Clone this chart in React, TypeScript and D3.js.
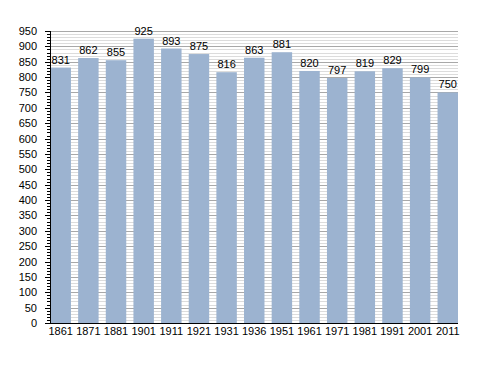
import React from "react";
import * as d3 from "d3";

const years = ["1861","1871","1881","1901","1911","1921","1931","1936","1951","1961","1971","1981","1991","2001","2011"];
const population = [831,862,855,925,893,875,816,863,881,820,797,819,829,799,750];
const majorTicks = d3.range(0, 951, 50);
const minorTicks = d3.range(0, 951, 10);

export default function App() {
  const W = 488, H = 373;
  const left = 50.5, right = 458, top = 31, bottom = 323;
  const x = d3.scaleBand<string>().domain(years).range([left, right]).paddingInner(0.26).paddingOuter(0);
  const y = d3.scaleLinear().domain([0, 950]).range([bottom, top]);
  const font = "'Liberation Sans', Arial, sans-serif";
  return (
    <svg width={W} height={H} style={{ position: "absolute", left: 0, top: 0 }} fontFamily={font}>
      <rect width={W} height={H} fill="#fff" />
      {minorTicks.filter(t => t % 50 !== 0).map(t => (
        <line key={"mg" + t} x1={left} x2={right} y1={Math.round(y(t)) + 0.5} y2={Math.round(y(t)) + 0.5} stroke="#dcdcdc" strokeWidth={1} />
      ))}
      {majorTicks.map(t => (
        <line key={"Mg" + t} x1={left} x2={right} y1={Math.round(y(t)) + 0.5} y2={Math.round(y(t)) + 0.5} stroke="#a8a8a8" strokeWidth={1} />
      ))}
      {years.map((yr, i) => (
        <rect key={yr} x={x(yr)} y={y(population[i])} width={x.bandwidth()} height={bottom - y(population[i])} fill="#9cb3d0" />
      ))}
      {years.map((yr, i) => (
        <text key={"l" + yr} x={(x(yr) as number) + x.bandwidth() / 2} y={y(population[i]) - 4} textAnchor="middle" fontSize={11} fill="#000">{population[i]}</text>
      ))}
      <line x1={50.5} x2={50.5} y1={top} y2={bottom} stroke="#000" />
      {minorTicks.map(t => (
        <line key={"t" + t} x1={t % 50 === 0 ? 45 : 47} x2={50.5} y1={Math.round(y(t)) + 0.5} y2={Math.round(y(t)) + 0.5} stroke="#000" />
      ))}
      <line x1={45} x2={right} y1={bottom + 0.5} y2={bottom + 0.5} stroke="#000" />
      {majorTicks.map(t => (
        <text key={"yl" + t} x={37} y={y(t) + 4} textAnchor="end" fontSize={11} fill="#000">{t}</text>
      ))}
      {years.map(yr => (
        <text key={"xl" + yr} x={(x(yr) as number) + x.bandwidth() / 2} y={335} textAnchor="middle" fontSize={11} fill="#000">{yr}</text>
      ))}
    </svg>
  );
}
